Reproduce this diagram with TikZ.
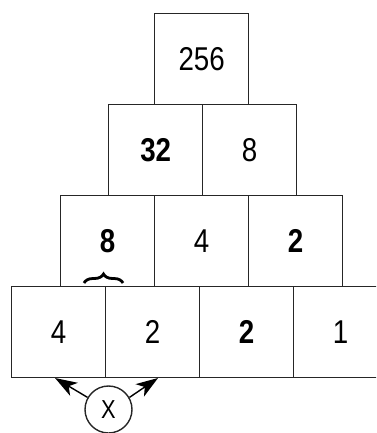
\documentclass[tikz,border=0pt]{standalone}
\usepackage{fontspec}
\setmainfont{Liberation Sans}[FakeStretch=0.84]
\usetikzlibrary{arrows.meta}
\usetikzlibrary{decorations.pathreplacing}

\tikzset{
  cell/.style={draw=black!85, line width=1.4pt, rectangle, inner sep=0pt,
    minimum width=94pt, minimum height=91pt, anchor=north west,
    font=\fontsize{33}{35}\selectfont},
  pointer/.style={line width=1.4pt, -{Stealth[length=22pt, width=15pt, inset=6pt]}},
}

\begin{document}
\begin{tikzpicture}[x=1pt, y=-1pt]
\useasboundingbox (0,0) rectangle (376,433);
\clip (0,0) rectangle (376,433);

% top row
\node[cell] (top) at (154,13) {256};

% second row
\node[cell] (b1) at (108,104) {\textbf{32}};
\node[cell] (b2) at (202,104) {8};

% third row
\node[cell] (c1) at (60,195) {\textbf{8}};
\node[cell] (c2) at (154,195) {4};
\node[cell] (c3) at (248,195) {\textbf{2}};

% bottom row
\node[cell] (d1) at (11,286) {4};
\node[cell] (d2) at (105,286) {2};
\node[cell] (d3) at (199,286) {\textbf{2}};
\node[cell] (d4) at (293,286) {1};

% brace under the 8
\draw[line width=2.8pt, decorate, decoration={brace, amplitude=9pt}]
  (84,283) -- (123,283);

% the X with its two arrows
\node[draw=black!85, line width=1.4pt, circle, minimum size=47pt, inner sep=0pt,
      font=\fontsize{26}{28}\selectfont] (xx) at (108.5,409.5) {X};
\coordinate (lefttip) at (55,378);
\coordinate (righttip) at (158,378);
\draw[pointer] (xx.150) -- (lefttip);
\draw[pointer] (xx.30) -- (righttip);

\end{tikzpicture}
\end{document}
